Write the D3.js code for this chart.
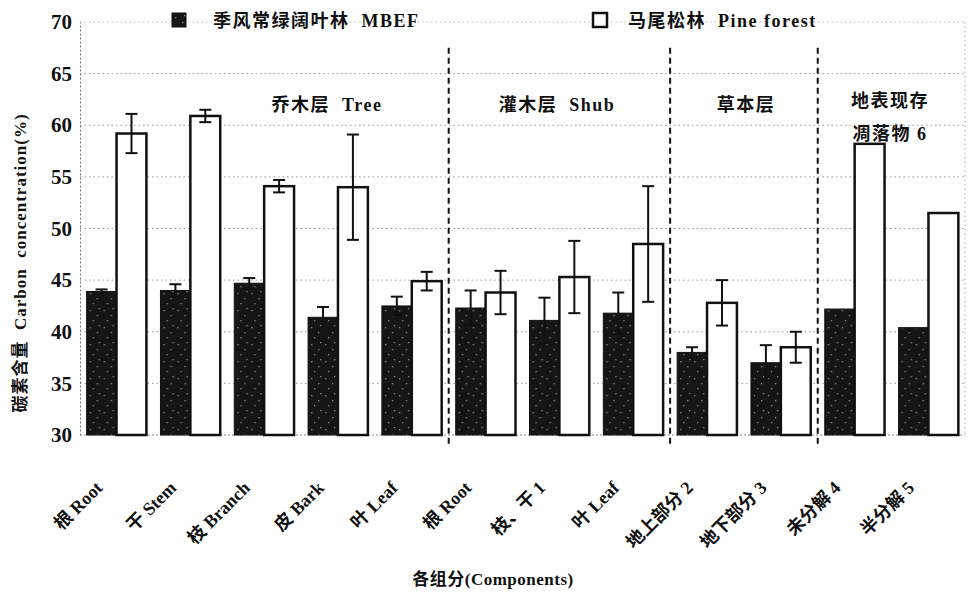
<!DOCTYPE html>
<html>
<head>
<meta charset="utf-8">
<script src="https://cdn.jsdelivr.net/npm/d3@7/dist/d3.min.js"></script>
<style>
  body { margin: 0; background: #fff; }
  svg text { font-family: "Liberation Serif", "Noto Sans CJK SC", serif; fill: #111; white-space: pre; }
</style>
</head>
<body>
<div id="chart"></div>
<script>
// 数据
const categories = ["根 Root", "干 Stem", "枝 Branch", "皮 Bark", "叶 Leaf",
  "根 Root", "枝、干 1", "叶 Leaf", "地上部分 2", "地下部分 3", "未分解 4", "半分解 5"];
const mbefValues = [43.9, 44.0, 44.7, 41.4, 42.5, 42.3, 41.1, 41.8, 38.0, 37.0, 42.2, 40.4];
const mbefErrors = [0.2, 0.6, 0.5, 1.0, 0.9, 1.7, 2.2, 2.0, 0.5, 1.7, 0, 0];
const pineValues = [59.2, 60.9, 54.1, 54.0, 44.9, 43.8, 45.3, 48.5, 42.8, 38.5, 58.2, 51.5];
const pineErrors = [1.9, 0.6, 0.6, 5.1, 0.9, 2.1, 3.5, 5.6, 2.2, 1.5, 0, 0];
const yTicks = [30, 35, 40, 45, 50, 55, 60, 65, 70];
// 分区：在第几个类别之后画竖虚线
const dividersAfter = [4, 7, 9];

const W = 968, H = 599;
const margin = { top: 22, right: 3, bottom: 164, left: 80 };

const svg = d3.select("#chart").append("svg")
  .attr("width", W).attr("height", H);

const x = d3.scaleBand()
  .domain(d3.range(categories.length))
  .range([margin.left, W - margin.right])
  .paddingInner(0.19)
  .paddingOuter(0.09);
const xs = d3.scaleBand().domain([0, 1]).range([0, x.bandwidth()]);
const y = d3.scaleLinear().domain([30, 70]).range([H - margin.bottom, margin.top]);

// 斑点图案（深色柱）
const defs = svg.append("defs");
const pat = defs.append("pattern").attr("id", "speck")
  .attr("width", 14).attr("height", 17).attr("patternUnits", "userSpaceOnUse");
pat.append("rect").attr("width", 14).attr("height", 17).attr("fill", "#161616");
[[3, 4], [10, 9], [6, 14], [12, 2]].forEach(p => {
  pat.append("rect").attr("x", p[0]).attr("y", p[1]).attr("width", 1.3).attr("height", 1.3).attr("fill", "#8a8a8a");
});

// 网格线
const grid = svg.append("g");
grid.selectAll("line.h").data(yTicks.filter(t => t > 30)).join("line")
  .attr("x1", margin.left).attr("x2", W - margin.right)
  .attr("y1", d => y(d)).attr("y2", d => y(d))
  .attr("stroke", d => d === 70 ? "#bbb" : "#999").attr("stroke-width", 1)
  .attr("stroke-dasharray", "1.5,3");
grid.append("line")
  .attr("x1", W - margin.right).attr("x2", W - margin.right)
  .attr("y1", y(70)).attr("y2", y(30))
  .attr("stroke", "#aaa").attr("stroke-dasharray", "1.5,3");

// y 轴
const yAxis = svg.append("g").attr("transform", `translate(${margin.left},0)`)
  .call(d3.axisLeft(y).tickValues(yTicks).tickSize(0).tickPadding(8));
yAxis.select(".domain").attr("stroke", "#777").attr("stroke-dasharray", "2,2");
yAxis.selectAll("text").attr("font-size", 21).attr("font-weight", "bold")
  .style("font-family", "'Liberation Serif', serif");

// 底线
svg.append("line").attr("x1", margin.left).attr("x2", W - margin.right)
  .attr("y1", y(30)).attr("y2", y(30)).attr("stroke", "#888").attr("stroke-dasharray", "2,2");

// 柱
const groups = svg.append("g").selectAll("g").data(categories).join("g")
  .attr("transform", (d, i) => `translate(${x(i)},0)`);

groups.append("rect")
  .attr("x", xs(0)).attr("width", xs.bandwidth())
  .attr("y", (d, i) => y(mbefValues[i]))
  .attr("height", (d, i) => y(30) - y(mbefValues[i]))
  .attr("fill", "url(#speck)").attr("stroke", "#111").attr("stroke-width", 1);

groups.append("rect")
  .attr("x", xs(1)).attr("width", xs.bandwidth())
  .attr("y", (d, i) => y(pineValues[i]))
  .attr("height", (d, i) => y(30) - y(pineValues[i]))
  .attr("fill", "#fff").attr("stroke", "#111").attr("stroke-width", 2.5);

// 误差线
function errBar(g, cx, v, e) {
  if (!e) return;
  const eb = g.append("g").attr("stroke", "#111").attr("stroke-width", 2);
  eb.append("line").attr("x1", cx).attr("x2", cx).attr("y1", y(v + e)).attr("y2", y(v - e));
  eb.append("line").attr("x1", cx - 6).attr("x2", cx + 6).attr("y1", y(v + e)).attr("y2", y(v + e));
  eb.append("line").attr("x1", cx - 6).attr("x2", cx + 6).attr("y1", y(v - e)).attr("y2", y(v - e));
}
groups.each(function (d, i) {
  const g = d3.select(this);
  errBar(g, xs(0) + xs.bandwidth() / 2, mbefValues[i], mbefErrors[i]);
  errBar(g, xs(1) + xs.bandwidth() / 2, pineValues[i], pineErrors[i]);
});

// 分区虚线
dividersAfter.forEach(k => {
  const xd = (x(k) + x.bandwidth() + x(k + 1)) / 2;
  svg.append("line").attr("x1", xd).attr("x2", xd)
    .attr("y1", y(67.5)).attr("y2", y(30) + 10)
    .attr("stroke", "#111").attr("stroke-width", 2).attr("stroke-dasharray", "6,4");
});

// 分区标题
const sec = [
  { t: "乔木层  Tree", x: 327, y: 111 },
  { t: "灌木层  Shub", x: 557, y: 111 },
  { t: "草本层", x: 746, y: 111 },
  { t: "地表现存", x: 890, y: 107 },
  { t: "凋落物 6", x: 890, y: 140 }
];
svg.append("g").selectAll("text").data(sec).join("text")
  .attr("x", d => d.x).attr("y", d => d.y).attr("text-anchor", "middle")
  .attr("font-size", 18).attr("font-weight", "bold").attr("letter-spacing", 1.5).text(d => d.t);

// x 轴标签
svg.append("g").selectAll("text").data(categories).join("text")
  .attr("transform", (d, i) => `translate(${x(i) + x.bandwidth() / 2 - 13},${y(30) + 54}) rotate(-45)`)
  .attr("text-anchor", "end").attr("font-size", 18).attr("font-weight", "bold")
  .text(d => d);

// 轴标题
svg.append("text").attr("x", 493).attr("y", 585).attr("text-anchor", "middle")
  .attr("font-size", 17).attr("font-weight", "bold").attr("letter-spacing", 0.5).text("各组分(Components)");
svg.append("text").attr("transform", `translate(26,263) rotate(-90)`)
  .attr("text-anchor", "middle").attr("font-size", 17).attr("font-weight", "bold")
  .attr("letter-spacing", 1).text("碳素含量  Carbon  concentration(%)");

// 图例
const legend = [
  { t: "季风常绿阔叶林  MBEF", fill: "url(#speck)", sw: 1, x: 172, tx: 41 },
  { t: "马尾松林  Pine forest", fill: "#fff", sw: 2.5, x: 593, tx: 35 }
];
const lg = svg.append("g").selectAll("g").data(legend).join("g")
  .attr("transform", d => `translate(${d.x},13)`);
lg.append("rect").attr("width", 14).attr("height", 14)
  .attr("fill", d => d.fill).attr("stroke", "#111").attr("stroke-width", d => d.sw);
lg.append("text").attr("x", d => d.tx).attr("y", 14).attr("font-size", 18).attr("font-weight", "bold")
  .attr("letter-spacing", 1.5).text(d => d.t);
</script>
</body>
</html>
